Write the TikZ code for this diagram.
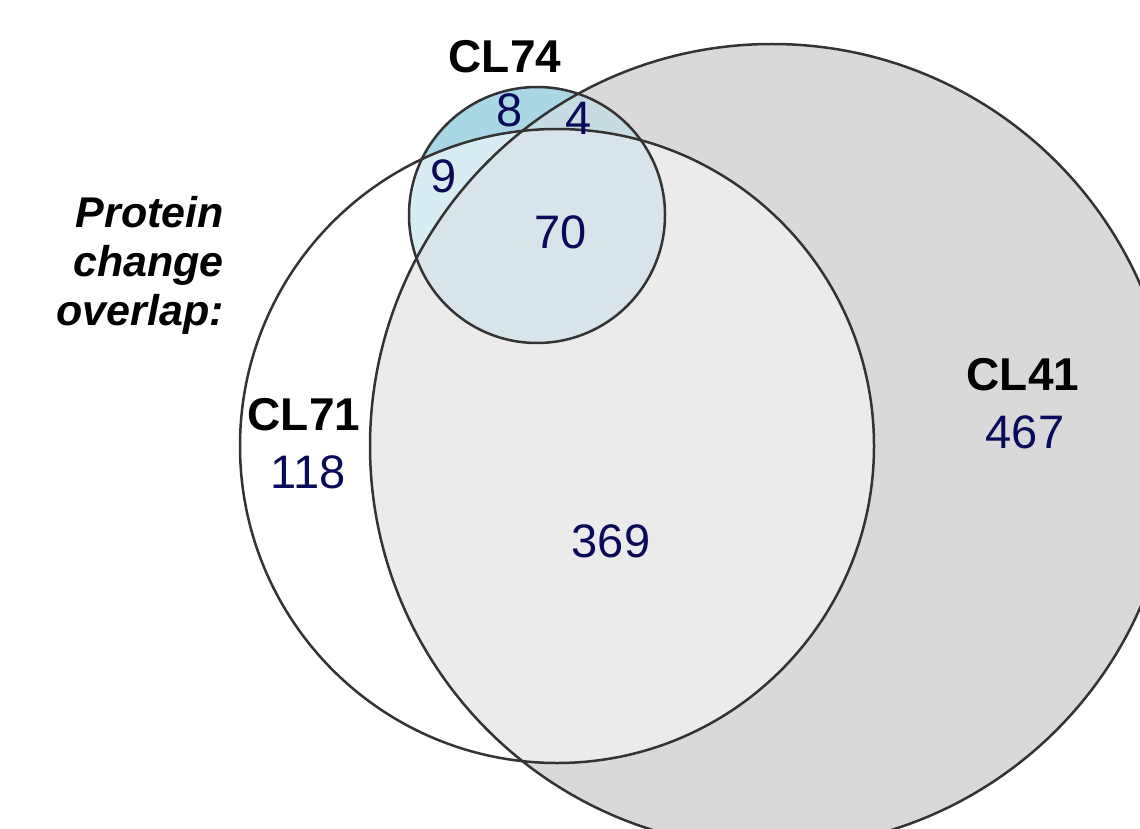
\documentclass[tikz,border=0pt]{standalone}
\usepackage{fontspec}
\setmainfont{Liberation Sans}
\definecolor{cgray}{HTML}{D9D9D9}
\definecolor{cboth}{HTML}{EBEBEB}
\definecolor{ceight}{HTML}{AAD7E4}
\definecolor{cnine}{HTML}{D7ECF3}
\definecolor{cfour}{HTML}{C6DCE2}
\definecolor{cseventy}{HTML}{D8E4EA}
\definecolor{cline}{HTML}{333333}
\definecolor{cnum}{RGB}{10,10,90}
\tikzset{
  setlabel/.style={font=\fontsize{46}{50}\selectfont\bfseries, text=black, inner sep=0pt, anchor=base},
  count/.style={font=\fontsize{47}{50}\selectfont, text=cnum, inner sep=0pt, anchor=base},
  note/.style={font=\fontsize{43}{48}\selectfont\bfseries\itshape, text=black, inner sep=0pt, anchor=base east},
  ring/.style={draw=cline, line width=2.5pt}
}
\begin{document}
\begin{tikzpicture}[x=1pt,y=-1pt]
\useasboundingbox (0,0) rectangle (1140,829);
\clip (0,0) rectangle (1140,829);
\fill[white] (0,0) rectangle (1140,829);
\coordinate (A) at (772,446);
\coordinate (B) at (557,446);
\coordinate (C) at (537,215);
% fills
\fill[cgray] (A) circle (402pt);
\fill[white] (B) circle (317pt);
\begin{scope}
  \clip (B) circle (317pt);
  \fill[cboth] (A) circle (402pt);
\end{scope}
\fill[ceight] (C) circle (128pt);
\begin{scope}
  \clip (C) circle (128pt);
  \fill[cnine] (B) circle (317pt);
  \fill[cfour] (A) circle (402pt);
  \clip (B) circle (317pt);
  \fill[cseventy] (A) circle (402pt);
\end{scope}
% outlines
\draw[ring] (A) circle (402pt);
\draw[ring] (B) circle (317pt);
\draw[ring] (C) circle (128pt);
% labels
\node[setlabel] (l74) at (505,73) {CL74};
\node[setlabel] (l71) at (304,430) {CL71};
\node[setlabel] (l41) at (1023,390) {CL41};
\node[count] (n8) at (510,127) {8};
\node[count] (n4) at (579,135) {4};
\node[count] (n9) at (444,193) {9};
\node[count] (n70) at (561,248) {70};
\node[count] (n118) at (308,488) {118};
\node[count] (n467) at (1025,448) {467};
\node[count] (n369) at (611,557) {369};
\node[note] (t1) at (224,227) {Protein};
\node[note] (t2) at (224,276) {change};
\node[note] (t3) at (224,325) {overlap:};
\end{tikzpicture}
\end{document}
